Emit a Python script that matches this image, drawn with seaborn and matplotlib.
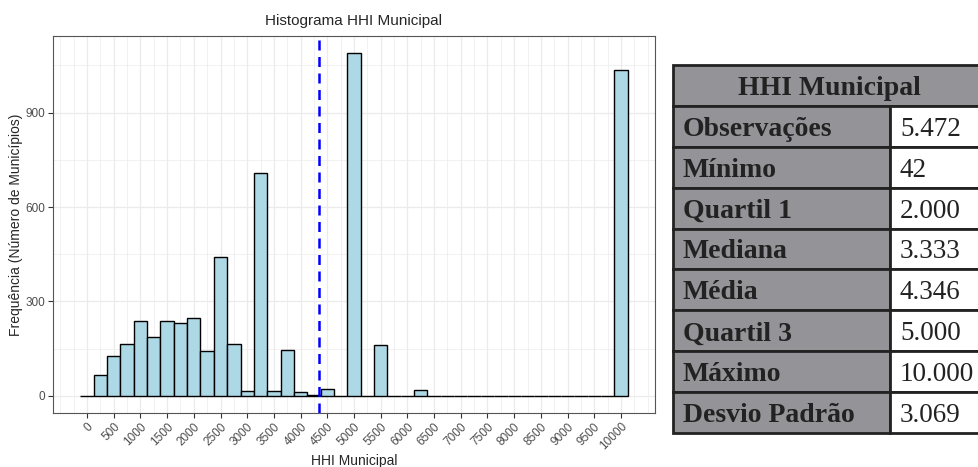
import numpy as np
import pandas as pd
import matplotlib
matplotlib.use('Agg')
import matplotlib.pyplot as plt
from matplotlib.patches import Rectangle
import seaborn as sns

# histogram bins (width 250, centred on multiples of 250) and counts
bin_centers = np.arange(0, 10001, 250)
counts = [0, 67, 126, 164, 238, 187, 237, 231, 248, 144,
          442, 164, 14, 709, 15, 145, 11, 4, 23, 0,
          1089, 0, 161, 0, 0, 18, 0, 1, 0, 0,
          0, 0, 0, 0, 0, 0, 0, 0, 0, 0,
          1035]
mean_hhi = 4346

# summary table
stat_labels = ['Observações', 'Mínimo', 'Quartil 1', 'Mediana', 'Média',
               'Quartil 3', 'Máximo', 'Desvio Padrão']
stat_values = ['5.472', '42', '2.000', '3.333', '4.346', '5.000', '10.000', '3.069']

sns.set_theme(style='whitegrid')
plt.rcParams['font.family'] = ['Liberation Sans', 'DejaVu Sans']

W, H = 979, 467
fig = plt.figure(figsize=(W / 100, H / 100), dpi=100)
ax = fig.add_axes([53 / W, 1 - 413 / H, (655 - 53) / W, (413 - 36) / H])

df = pd.DataFrame({'hhi': bin_centers, 'n': counts})
sns.histplot(data=df, x='hhi', weights='n', binwidth=250, binrange=(-125, 10125),
             color='#ADD8E6', edgecolor='black', linewidth=1, alpha=1, ax=ax)
ax.axvline(mean_hhi, color='blue', linestyle=(0, (4, 2.6)), linewidth=1.8)

ax.set_xticks(np.arange(0, 10001, 500))
ax.set_xticklabels([str(v) for v in range(0, 10001, 500)], rotation=45, ha='right',
                   rotation_mode='anchor')
ax.set_xticks(np.arange(-500, 10751, 250), minor=True)
ax.set_yticks([0, 300, 600, 900])
ax.set_yticks(np.arange(-150, 1200, 150), minor=True)

# ggplot-like expansion (set after ticks so they don't widen the view)
x0, x1 = -125, 10125
ax.set_xlim(x0 - 0.05 * (x1 - x0), x1 + 0.05 * (x1 - x0))
ymax = max(counts)
ax.set_ylim(-0.05 * ymax, 1.05 * ymax)

ax.tick_params(which='major', length=3.5, width=0.8, color='#333333', labelsize=8.5,
               labelcolor='#4D4D4D', pad=2, bottom=True, left=True)
ax.tick_params(which='minor', length=0)
ax.grid(which='major', color='#EBEBEB', linewidth=0.9)
ax.grid(which='minor', color='#EBEBEB', linewidth=0.5)
ax.set_axisbelow(True)
for s in ax.spines.values():
    s.set_color('#555555')
    s.set_linewidth(0.8)

ax.set_title('Histograma HHI Municipal', fontsize=11, pad=8)
ax.set_xlabel('HHI Municipal', fontsize=10, labelpad=1)
ax.set_ylabel('Frequência (Número de Municípios)', fontsize=10, labelpad=2)

# summary table drawn in pixel coordinates
tl, tr, tt, tb = 673, 985, 65, 433
tax = fig.add_axes([tl / W, 1 - tb / H, (tr - tl) / W, (tb - tt) / H])
tax.set_xlim(0, tr - tl)
tax.set_ylim(tb - tt, 0)
tax.axis('off')
row_h = (tb - tt) / 9
col_x = 890 - tl
grey = '#949498'
edge = '#222222'
serif = ['Liberation Serif', 'DejaVu Serif']

tax.add_patch(Rectangle((0, 0), tr - tl, row_h, facecolor=grey, edgecolor=edge,
                        linewidth=2, clip_on=False))
tax.text((tr - tl) / 2, row_h / 2 + 3, 'HHI Municipal', ha='center', va='center',
         fontsize=20, fontweight='bold', family=serif, color='#222222')
for i, (lab, val) in enumerate(zip(stat_labels, stat_values)):
    y = (i + 1) * row_h
    tax.add_patch(Rectangle((0, y), col_x, row_h, facecolor=grey, edgecolor=edge,
                            linewidth=2, clip_on=False))
    tax.add_patch(Rectangle((col_x, y), tr - tl - col_x, row_h, facecolor='white',
                            edgecolor=edge, linewidth=2, clip_on=False))
    tax.text(10, y + row_h / 2 + 3, lab, ha='left', va='center', fontsize=20,
             fontweight='bold', family=serif, color='#222222')
    tax.text(col_x + 10, y + row_h / 2 + 3, val, ha='left', va='center', fontsize=19.5,
             family=serif, color='#222222')

fig.savefig('out.png', dpi=100)
